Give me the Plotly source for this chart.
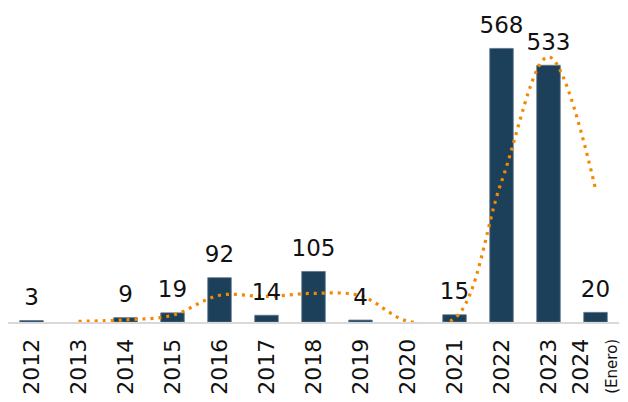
import plotly.graph_objects as go

years = ["2012", "2013", "2014", "2015", "2016", "2017", "2018", "2019", "2020", "2021", "2022", "2023", "2024"]
tick_labels = ["2012", "2013", "2014", "2015", "2016", "2017", "2018", "2019", "2020", "2021", "2022", "2023",
               "2024<br><span style='font-size:15px'>(Enero)</span>"]
counts = [3, None, 9, 19, 92, 14, 105, 4, None, 15, 568, 533, 20]
trend = [None, 1.5, 4.5, 14, 55.5, 53, 59.5, 54.5, 2, 7.5, 291.5, 550.5, 276.5]

bar_text = [str(v) if v is not None else "" for v in counts]

fig = go.Figure()
fig.add_trace(go.Bar(
    x=years, y=counts,
    marker=dict(color="#1c3f5a", line=dict(color="#5a7388", width=0.8)),
    showlegend=False,
))
fig.add_trace(go.Scatter(
    x=years, y=trend, mode="lines",
    line=dict(color="#f28a00", width=3.2, dash="3px,5px", shape="spline", smoothing=1),
    connectgaps=False, showlegend=False, hoverinfo="skip",
))
fig.add_trace(go.Scatter(
    x=years, y=counts, mode="markers+text", text=bar_text, textposition="top center",
    marker=dict(size=14, opacity=0),
    textfont=dict(size=23, color="#111111", family="DejaVu Sans"),
    cliponaxis=False, showlegend=False, hoverinfo="skip",
))

fig.update_layout(
    width=620, height=394,
    margin=dict(l=0, r=9, t=25, b=80, autoexpand=False),
    paper_bgcolor="white", plot_bgcolor="white",
    font=dict(family="DejaVu Sans, sans-serif", color="#111111"),
    bargap=0.5,
)
fig.update_xaxes(
    tickmode="array", tickvals=years, ticktext=tick_labels,
    range=[-0.5, len(years) - 0.5],
    tickangle=-90, tickfont=dict(size=22, color="#111111"),
    showline=True, linecolor="#d9d9d9", linewidth=2,
    showgrid=False, ticks="", zeroline=False, automargin=False,
    ticklabelstandoff=6,
)
fig.update_yaxes(range=[0, 600], visible=False, showgrid=False, zeroline=False, automargin=False)

fig.write_html("out.html")
